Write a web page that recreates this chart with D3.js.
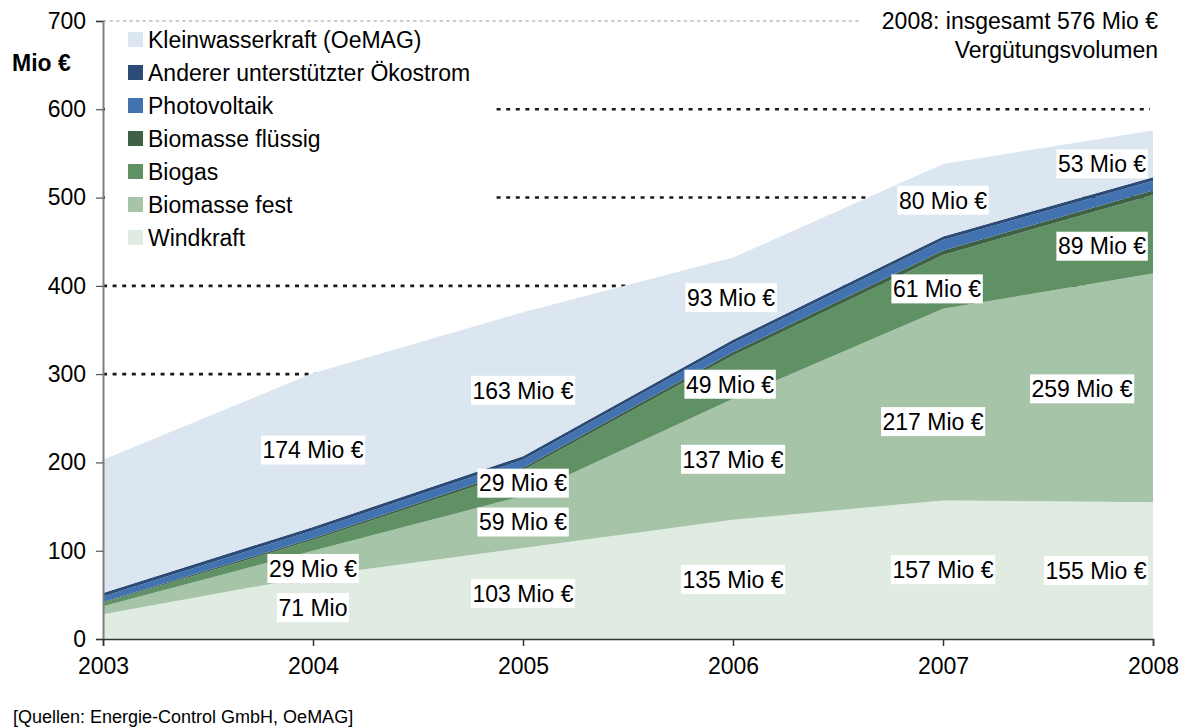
<!DOCTYPE html>
<html>
<head>
<meta charset="utf-8">
<script src="https://cdn.jsdelivr.net/npm/d3@7"></script>
<style>
  html, body { margin: 0; padding: 0; background: #fff; }
  svg { display: block; font-family: "Liberation Sans", Arial, sans-serif; }
</style>
</head>
<body>
<svg id="chart" width="1188" height="727"></svg>
<script>
// Vergütungsvolumen Ökostrom, Mio €
const years = [2003, 2004, 2005, 2006, 2007, 2008];
const windkraft        = [28, 71, 103, 135, 157, 155];
const biomasseFest     = [9, 29, 59, 137, 217, 259];
const biogas           = [4, 12, 29, 49, 61, 89];
const biomasseFluessig = [1, 2, 3, 4, 5, 5];
const photovoltaik     = [6, 9, 9, 10, 12, 11];
const andererOekostrom = [4, 4, 4, 4, 4, 4];
const kleinwasserkraft = [151, 174, 163, 93, 82, 53];

// bottom to top
const seriesNames = ['Windkraft', 'Biomasse fest', 'Biogas', 'Biomasse flüssig',
  'Photovoltaik', 'Anderer unterstützter Ökostrom', 'Kleinwasserkraft (OeMAG)'];
const seriesValues = [windkraft, biomasseFest, biogas, biomasseFluessig,
  photovoltaik, andererOekostrom, kleinwasserkraft];
const colors = ['#e0ebe2', '#a5c4a8', '#5f9165', '#3f6146', '#4272b0', '#2c4c78', '#dbe6f1'];

const yTicks = [0, 100, 200, 300, 400, 500, 600, 700];
const gridValues = [300, 400, 500, 600];

// data labels: series index, year, text
const dataLabels = [
  [0, 2004, '71 Mio'], [0, 2005, '103 Mio €'], [0, 2006, '135 Mio €'], [0, 2007, '157 Mio €'], [0, 2008, '155 Mio €'],
  [1, 2004, '29 Mio €'], [1, 2005, '59 Mio €'], [1, 2006, '137 Mio €'], [1, 2007, '217 Mio €'], [1, 2008, '259 Mio €'],
  [2, 2005, '29 Mio €'], [2, 2006, '49 Mio €'], [2, 2007, '61 Mio €'], [2, 2008, '89 Mio €'],
  [6, 2004, '174 Mio €'], [6, 2005, '163 Mio €'], [6, 2006, '93 Mio €'], [6, 2007, '80 Mio €'], [6, 2008, '53 Mio €']
];
// manual label nudges in px (as moved in the original)
const nudge = {
  '0-2008': [-57, 0], '1-2004': [0, 5], '1-2007': [-10, 17], '1-2008': [-71, 1],
  '2-2006': [-3, 7], '2-2007': [-6, 7], '2-2008': [-51, 12],
  '6-2005': [0, 6], '6-2006': [-2, -1], '6-2007': [0, 0], '6-2008': [-51, 10]
};

const svg = d3.select('#chart');
const mLeft = 103, mRight = 1153, mTop = 21, mBottom = 639;
const fs = 23;

const x = d3.scaleLinear().domain([2003, 2008]).range([mLeft, mRight]);
const y = d3.scaleLinear().domain([0, 700]).range([mBottom, mTop]);

const table = years.map((yr, i) => {
  const row = { year: yr };
  seriesNames.forEach((n, k) => { row[n] = seriesValues[k][i]; });
  return row;
});
const stacked = d3.stack().keys(seriesNames)(table);

// gridlines (behind areas)
svg.append('line')
  .attr('x1', mLeft).attr('x2', mRight).attr('y1', y(700)).attr('y2', y(700))
  .attr('stroke', '#999').attr('stroke-width', 1).attr('stroke-dasharray', '3.3 3.3');
svg.selectAll('line.grid').data(gridValues).enter().append('line')
  .attr('class', 'grid')
  .attr('x1', mLeft).attr('x2', mRight - 3)
  .attr('y1', d => y(d)).attr('y2', d => y(d))
  .attr('stroke', '#1a1a1a').attr('stroke-width', 2.6)
  .attr('stroke-dasharray', '4 5.6');

// areas
const area = d3.area()
  .x(d => x(d.data.year))
  .y0(d => y(d[0]))
  .y1(d => y(d[1]));

svg.selectAll('path.layer').data(stacked).enter().append('path')
  .attr('class', 'layer')
  .attr('d', area)
  .attr('fill', (d, i) => colors[i]);

// axes
const yAxis = d3.axisLeft(y).tickValues(yTicks).tickSize(7).tickPadding(10);
const gy = svg.append('g').attr('transform', `translate(${mLeft},0)`).call(yAxis);
gy.select('.domain').attr('stroke', '#808080').attr('stroke-width', 2);
gy.selectAll('.tick line').attr('stroke', '#333');
gy.selectAll('.tick text').attr('font-size', fs).attr('fill', '#000')
  .attr('font-family', '"Liberation Sans", Arial, sans-serif');

const xAxis = d3.axisBottom(x).tickValues(years).tickFormat(d3.format('d')).tickSize(7).tickPadding(12);
const gx = svg.append('g').attr('transform', `translate(0,${mBottom})`).call(xAxis);
gx.select('.domain').attr('stroke', '#333').attr('stroke-width', 1.5);
gx.selectAll('.tick line').attr('stroke', '#333').attr('stroke-width', 1.5);
gx.selectAll('.tick text').attr('font-size', fs).attr('fill', '#000')
  .attr('font-family', '"Liberation Sans", Arial, sans-serif');

svg.append('text').attr('x', 12).attr('y', 71)
  .attr('font-size', fs).attr('font-weight', 'bold').text('Mio €');

// legend with white background
const legend = svg.append('g');
legend.append('rect').attr('x', mLeft + 2).attr('y', mTop + 2).attr('width', 390).attr('height', 232).attr('fill', '#fff');
const legendOrder = seriesNames.map((n, i) => i).reverse();
legendOrder.forEach((k, row) => {
  const cy = 39.5 + row * 33;
  legend.append('rect').attr('x', 128).attr('y', cy - 7.5).attr('width', 15).attr('height', 15).attr('fill', colors[k]);
  legend.append('text').attr('x', 148).attr('y', cy + 8).attr('font-size', fs).text(seriesNames[k]);
});

// annotation top right
svg.append('rect').attr('x', 860).attr('y', 4).attr('width', 328).attr('height', 64).attr('fill', '#fff');
svg.append('text').attr('x', 1158).attr('y', 29).attr('text-anchor', 'end').attr('font-size', fs)
  .text('2008: insgesamt 576 Mio €');
svg.append('text').attr('x', 1158).attr('y', 58).attr('text-anchor', 'end').attr('font-size', fs)
  .text('Vergütungsvolumen');

// data labels with white boxes
const labelG = svg.append('g');
dataLabels.forEach(([k, yr, txt]) => {
  const i = years.indexOf(yr);
  const pt = stacked[k][i];
  const off = nudge[`${k}-${yr}`] || [0, 0];
  const cx = x(yr) + off[0];
  const cy = y((pt[0] + pt[1]) / 2) + off[1];
  const g = labelG.append('g');
  const t = g.append('text').attr('x', cx).attr('y', cy).attr('dy', '0.36em')
    .attr('text-anchor', 'middle').attr('font-size', fs).text(txt);
  const bb = t.node().getBBox();
  g.insert('rect', 'text')
    .attr('x', bb.x - 1.5).attr('y', cy - 14.5)
    .attr('width', bb.width + 3).attr('height', 29).attr('fill', '#fff');
});

svg.append('text').attr('x', 13).attr('y', 723).attr('font-size', 18)
  .text('[Quellen: Energie-Control GmbH, OeMAG]');
</script>
</body>
</html>
